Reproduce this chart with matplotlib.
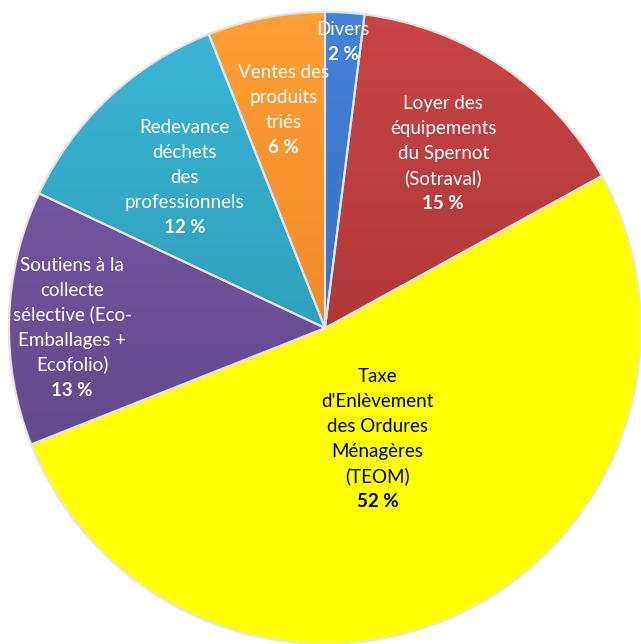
import numpy as np
import matplotlib
matplotlib.use("Agg")
import matplotlib.pyplot as plt
from matplotlib.colors import LinearSegmentedColormap

plt.rcParams['font.family'] = ['Lato', 'DejaVu Sans']

# data, clockwise from the top
labels = ["Divers", "Loyer des\néquipements\ndu Spernot\n(Sotraval)",
          "Taxe\nd'Enlèvement\ndes Ordures\nMénagères\n(TEOM)",
          "Soutiens à la\ncollecte\nsélective (Eco-\nEmballages +\nEcofolio)",
          "Redevance\ndéchets\ndes\nprofessionnels",
          "Ventes des\nproduits\ntriés"]
values = [2, 15, 52, 13, 12, 6]

# style
colors = ["#3870c0", "#b03838", "#ffff00", "#6b4e96", "#2f9fbd", "#f28a2a"]
text_colors = ["white", "white", "black", "white", "white", "white"]
label_dist = [0.905, 0.665, 0.39, 0.80, 0.65, 0.70]
label_turn = [0, 0, 0, 1.8, 0, 0]  # degrees, nudges label angle off the slice middle

R_PX = 316  # pie radius in pixels

fig = plt.figure(figsize=(6.41, 6.44), dpi=100)
ax = fig.add_axes([0, 0, 1, 1])

wedges, _ = ax.pie(values, colors=colors, startangle=90, counterclock=False,
                   radius=1.0, wedgeprops=dict(edgecolor="#e4e4e4", linewidth=1.5))

# vertical light-to-dark gradient on the coloured slices (not the yellow one)
grad = np.linspace(0, 1, 256).reshape(-1, 1)
for w, c in zip(wedges, colors):
    if c == "#ffff00":
        continue
    rgb = np.array(matplotlib.colors.to_rgb(c))
    light = np.clip(rgb * 1.1 + 0.03, 0, 1)
    dark = rgb * 0.8
    cmap = LinearSegmentedColormap.from_list("g", [dark, rgb, light])
    im = ax.imshow(grad, cmap=cmap, extent=(-1.05, 1.05, -1.05, 1.05),
                   origin="lower", aspect="auto", zorder=w.get_zorder() + 0.1)
    im.set_clip_path(w)
    ax.add_patch(matplotlib.patches.Wedge(w.center, w.r, w.theta1, w.theta2,
                                          facecolor="none", edgecolor="#e4e4e4",
                                          linewidth=1.5, zorder=w.get_zorder() + 0.2))

step = 25 / R_PX
base_off = 5 / R_PX
for w, lab, v, tc, d, t in zip(wedges, labels, values, text_colors, label_dist, label_turn):
    ang = np.deg2rad((w.theta1 + w.theta2) / 2 + t)
    x, y = d * np.cos(ang), d * np.sin(ang)
    lines = lab.split("\n") + [f"{v} %"]
    m = len(lines)
    for i, line in enumerate(lines):
        yc = y + ((m - 1) / 2 - i) * step
        ax.text(x, yc - base_off, line, ha="center", va="baseline", color=tc,
                fontsize=13.5, fontweight="bold" if i == m - 1 else "normal",
                zorder=10)

# the pie fills the picture, as in the original
ax.set_xlim(-325 / R_PX, 1.0)
ax.set_ylim(-1.0, 328 / R_PX)
ax.set_aspect("equal")
ax.axis("off")

fig.savefig("out.png", dpi=100, facecolor="white")
